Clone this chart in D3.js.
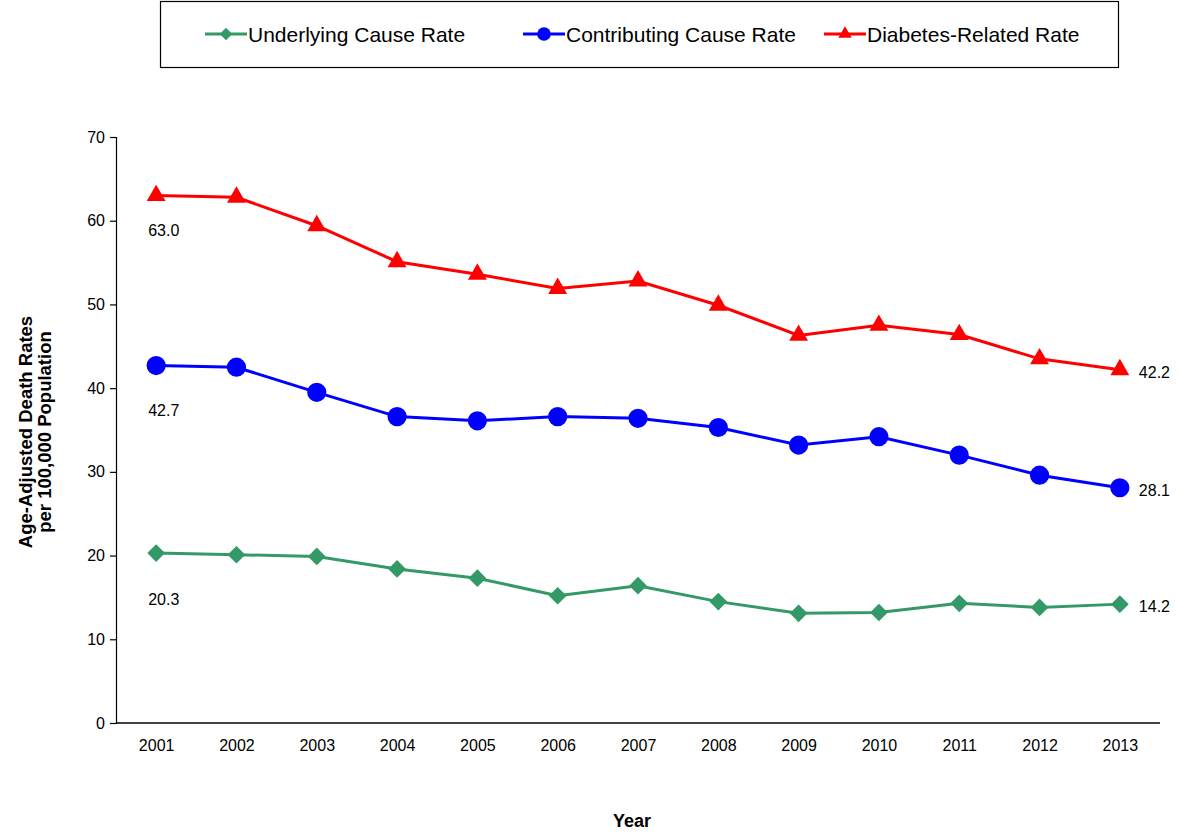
<!DOCTYPE html>
<html lang="en">
  <head>
    <meta charset="UTF-8" />
    <title>Age-Adjusted Death Rates</title>
    <script src="https://cdn.jsdelivr.net/npm/d3@7"></script>
    <style>
      body {
        margin: 0;
        background: #fff;
        font-family: "Liberation Sans", Arial, sans-serif;
      }
    </style>
  </head>
  <body>
    <script>
      const years = [2001, 2002, 2003, 2004, 2005, 2006, 2007, 2008, 2009, 2010, 2011, 2012, 2013];
      const underlying = [20.3, 20.1, 19.9, 18.4, 17.3, 15.2, 16.4, 14.5, 13.1, 13.2, 14.3, 13.8, 14.2];
      const contributing = [42.7, 42.5, 39.5, 36.6, 36.1, 36.6, 36.4, 35.3, 33.2, 34.2, 32.0, 29.6, 28.1];
      const related = [63.0, 62.8, 59.4, 55.1, 53.6, 51.9, 52.8, 49.9, 46.3, 47.5, 46.4, 43.5, 42.2];
      const yTicks = [0, 10, 20, 30, 40, 50, 60, 70];

      const series = [
        { name: "Underlying Cause Rate", values: underlying, color: "#339966", shape: d3.symbolDiamond2, size: 200, labelDy: 52 },
        { name: "Contributing Cause Rate", values: contributing, color: "#0000ff", shape: d3.symbolCircle, size: 290, labelDy: 50 },
        { name: "Diabetes-Related Rate", values: related, color: "#ff0000", shape: d3.symbolTriangle, size: 155, labelDy: 40 },
      ];

      const width = 1177;
      const height = 835;
      const plotLeft = 116, plotRight = 1160, plotTop = 137, plotBottom = 723;

      const svg = d3.select("body").append("svg")
        .attr("width", width)
        .attr("height", height);

      const x = d3.scalePoint().domain(years).range([plotLeft, plotRight]).padding(0.5);
      const y = d3.scaleLinear().domain([0, 70]).range([plotBottom, plotTop]);

      // y axis
      const yAxis = svg.append("g")
        .attr("transform", `translate(${plotLeft},0)`)
        .call(d3.axisLeft(y).tickValues(yTicks).tickSize(6).tickPadding(5));
      yAxis.selectAll("path, line").attr("stroke", "#000").attr("stroke-width", 1.2);
      yAxis.selectAll("text").attr("font-size", 16).attr("fill", "#000")
        .attr("font-family", "Liberation Sans, Arial, sans-serif");

      // x axis (no tick marks)
      const xAxis = svg.append("g")
        .attr("transform", `translate(0,${plotBottom})`)
        .call(d3.axisBottom(x).tickSize(0).tickPadding(17));
      xAxis.select(".domain").attr("d", `M${plotLeft},0H${plotRight}`).attr("stroke", "#000").attr("stroke-width", 1.4);
      xAxis.selectAll("text").attr("font-size", 16).attr("fill", "#000")
        .attr("font-family", "Liberation Sans, Arial, sans-serif");

      // axis titles
      svg.append("text")
        .attr("x", 632).attr("y", 827)
        .attr("text-anchor", "middle")
        .attr("font-size", 18).attr("font-weight", "bold")
        .text("Year");

      const yTitle = svg.append("text")
        .attr("transform", "translate(32,432) rotate(-90)")
        .attr("text-anchor", "middle")
        .attr("font-size", 18.5).attr("font-weight", "bold");
      yTitle.append("tspan").attr("x", 0).attr("dy", 0).text("Age-Adjusted Death Rates");
      yTitle.append("tspan").attr("x", 0).attr("dy", 19).text("per 100,000 Population");

      // lines and markers
      const line = d3.line().x((d, i) => x(years[i])).y((d) => y(d));

      series.forEach((s) => {
        svg.append("path")
          .datum(s.values)
          .attr("fill", "none")
          .attr("stroke", s.color)
          .attr("stroke-width", 3)
          .attr("d", line);

        svg.selectAll(null)
          .data(s.values)
          .join("path")
          .attr("transform", (d, i) => `translate(${x(years[i])},${y(d)})`)
          .attr("fill", s.color)
          .attr("d", d3.symbol().type(s.shape).size(s.size));

        // first and last value labels
        const first = s.values[0];
        const last = s.values[s.values.length - 1];
        svg.append("text")
          .attr("x", x(years[0]) - 8)
          .attr("y", y(first) + s.labelDy)
          .attr("font-size", 16)
          .text(first.toFixed(1));
        svg.append("text")
          .attr("x", x(years[years.length - 1]) + 19)
          .attr("y", y(last) + 8)
          .attr("font-size", 16)
          .text(last.toFixed(1));
      });

      // legend
      const legend = svg.append("g");
      legend.append("rect")
        .attr("x", 160.5).attr("y", 1.5)
        .attr("width", 958).attr("height", 66)
        .attr("fill", "#fff").attr("stroke", "#000").attr("stroke-width", 1.2);

      const legendX = [205, 523, 824];
      series.forEach((s, i) => {
        const g = legend.append("g").attr("transform", `translate(${legendX[i]},34)`);
        g.append("line").attr("x1", 0).attr("x2", 42)
          .attr("stroke", s.color).attr("stroke-width", 3);
        g.append("path")
          .attr("transform", "translate(21,0)")
          .attr("fill", s.color)
          .attr("d", d3.symbol().type(s.shape).size(s.size * 0.5));
        g.append("text")
          .attr("x", 43).attr("y", 7.5)
          .attr("font-size", 21)
          .text(s.name);
      });
    </script>
  </body>
</html>
